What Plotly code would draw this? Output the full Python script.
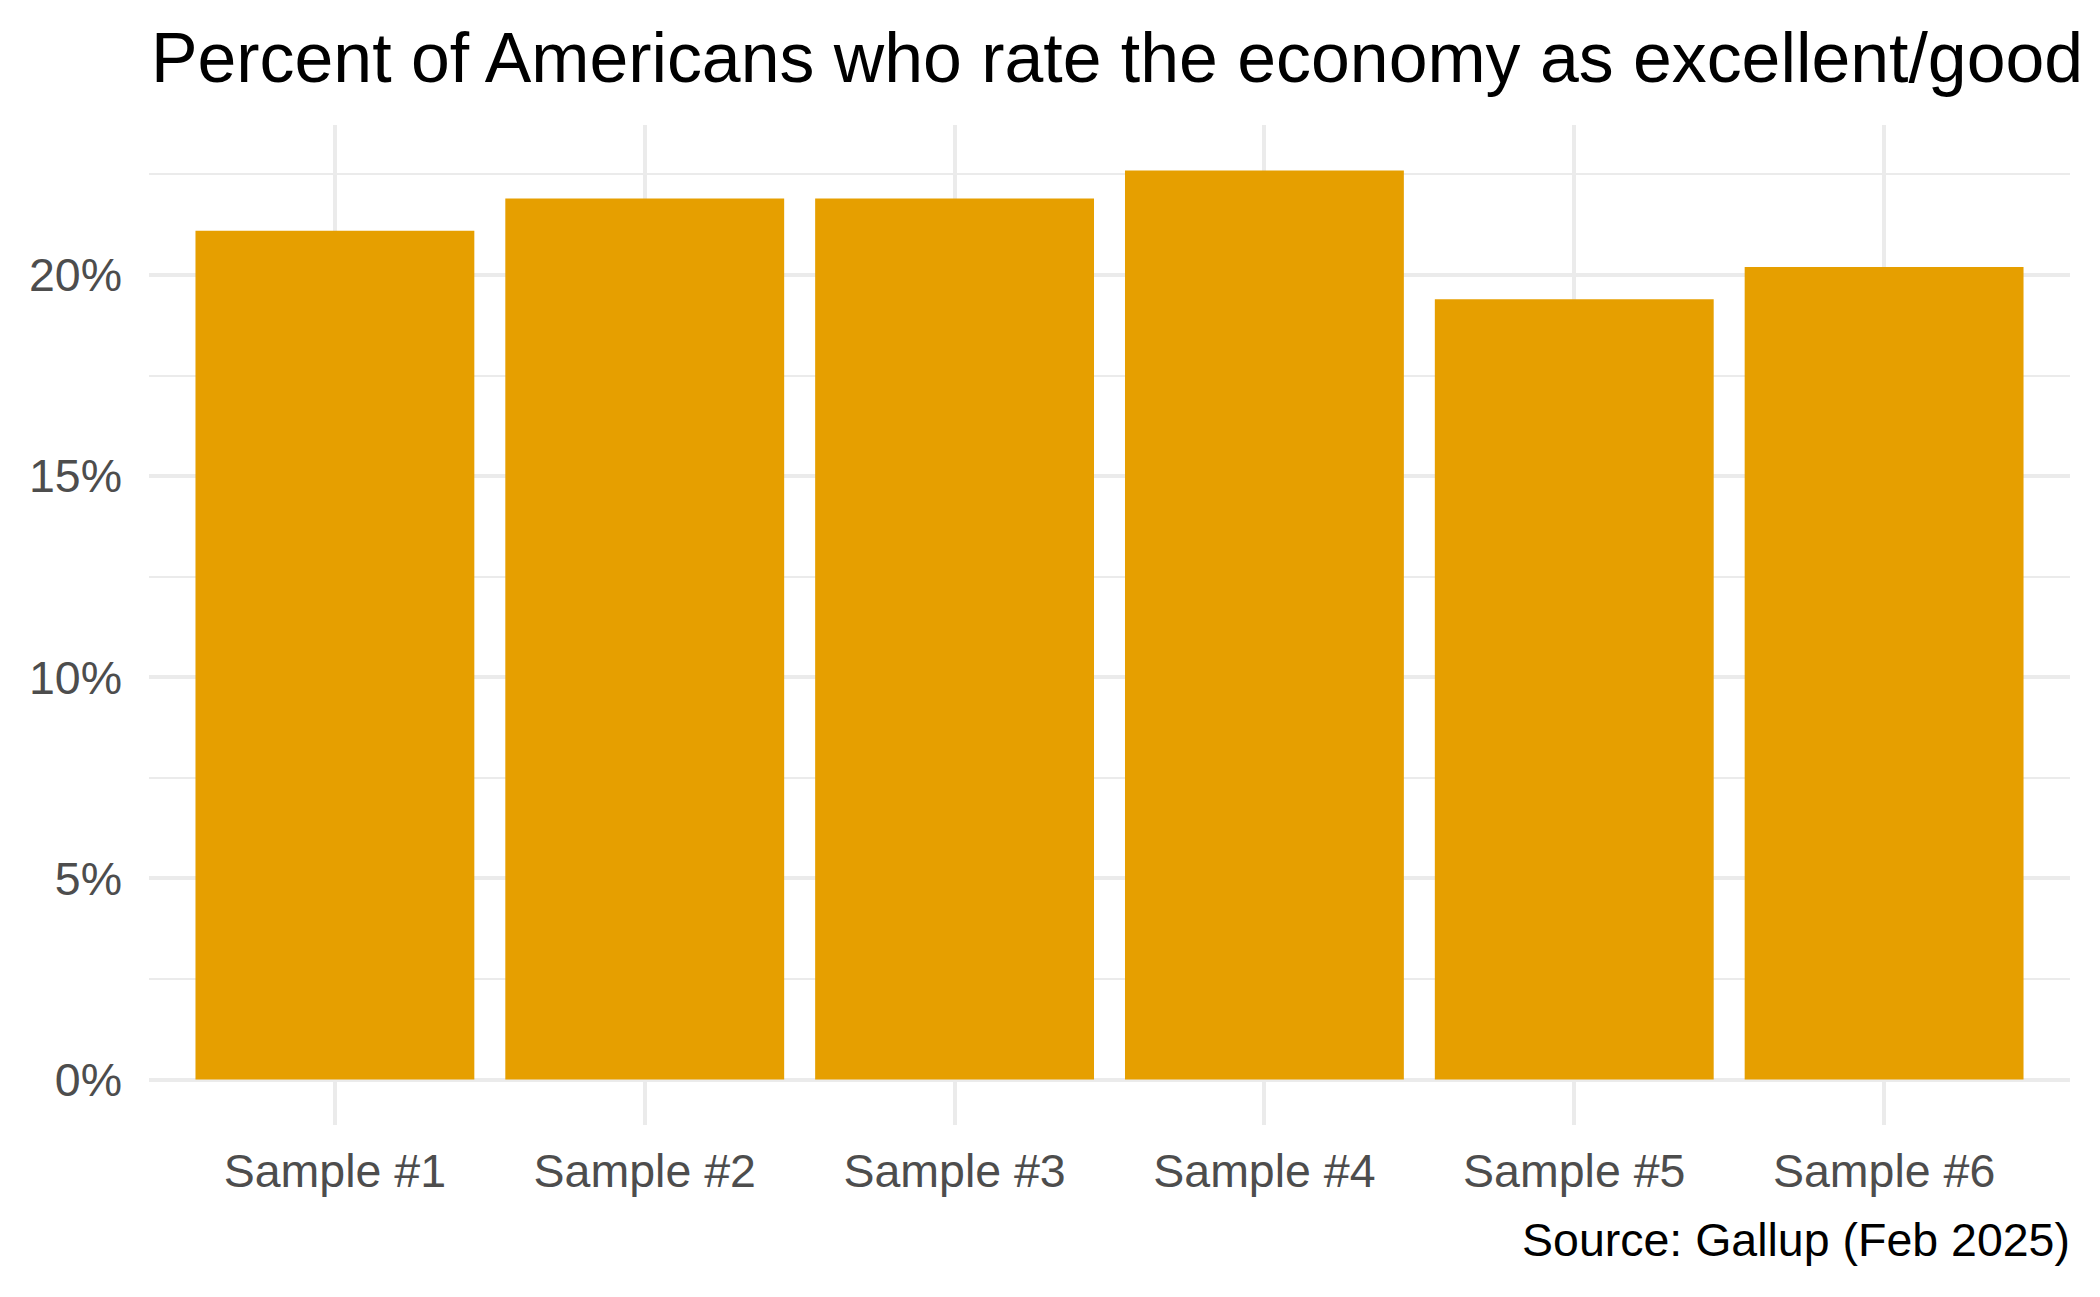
import plotly.graph_objects as go

categories = ["Sample #1", "Sample #2", "Sample #3", "Sample #4", "Sample #5", "Sample #6"]
values = [21.1, 21.9, 21.9, 22.6, 19.4, 20.2]
y_ticks = [0, 5, 10, 15, 20]
y_tick_labels = ["0%", "5%", "10%", "15%", "20%"]
title_text = "Percent of Americans who rate the economy as excellent/good"
source_text = "Source: Gallup (Feb 2025)"

OFF = 8  # default page body margin
W, H = 2100 - OFF, 1297 - OFF
FONT = "Liberation Sans, Arial, Helvetica, sans-serif"
GRID = "#EBEBEB"

ymax = max(values)
yrange = [-0.05 * ymax, ymax * 1.05]

fig = go.Figure(go.Bar(
    x=categories, y=values, width=0.9,
    marker=dict(color="#E69F00", line=dict(width=0)),
))

fig.update_layout(
    width=W, height=H,
    margin=dict(l=149 - OFF, r=30, t=125 - OFF, b=172),
    paper_bgcolor="white", plot_bgcolor="white",
    font=dict(family=FONT, color="#4D4D4D"),
    showlegend=False,
    xaxis=dict(
        type="category", range=[-0.6, len(categories) - 0.4],
        showgrid=True, gridcolor=GRID, gridwidth=4,
        showline=False, zeroline=False, ticks="",
        tickfont=dict(size=46.5, color="#4D4D4D", family=FONT),
        ticklabelstandoff=14,
    ),
    yaxis=dict(
        range=yrange, tickvals=y_ticks, ticktext=y_tick_labels,
        showgrid=True, gridcolor=GRID, gridwidth=4,
        minor=dict(dtick=2.5, tick0=0, showgrid=True, gridcolor=GRID, gridwidth=2, ticks=""),
        showline=False, zeroline=False, ticks="",
        tickfont=dict(size=46.5, color="#4D4D4D", family=FONT),
        ticklabelstandoff=26,
    ),
    annotations=[
        dict(text=title_text, xref="paper", yref="paper", x=0, y=1,
             xanchor="left", yanchor="middle", xshift=0,
             yshift=125 - 58, showarrow=False,
             font=dict(size=69.8, color="black", family=FONT)),
        dict(text=source_text, xref="paper", yref="paper", x=1, y=0,
             xanchor="right", yanchor="middle", yshift=-(1240 - 1125),
             xshift=2, showarrow=False,
             font=dict(size=46.5, color="black", family=FONT)),
    ],
)

fig.write_html("out.html")
